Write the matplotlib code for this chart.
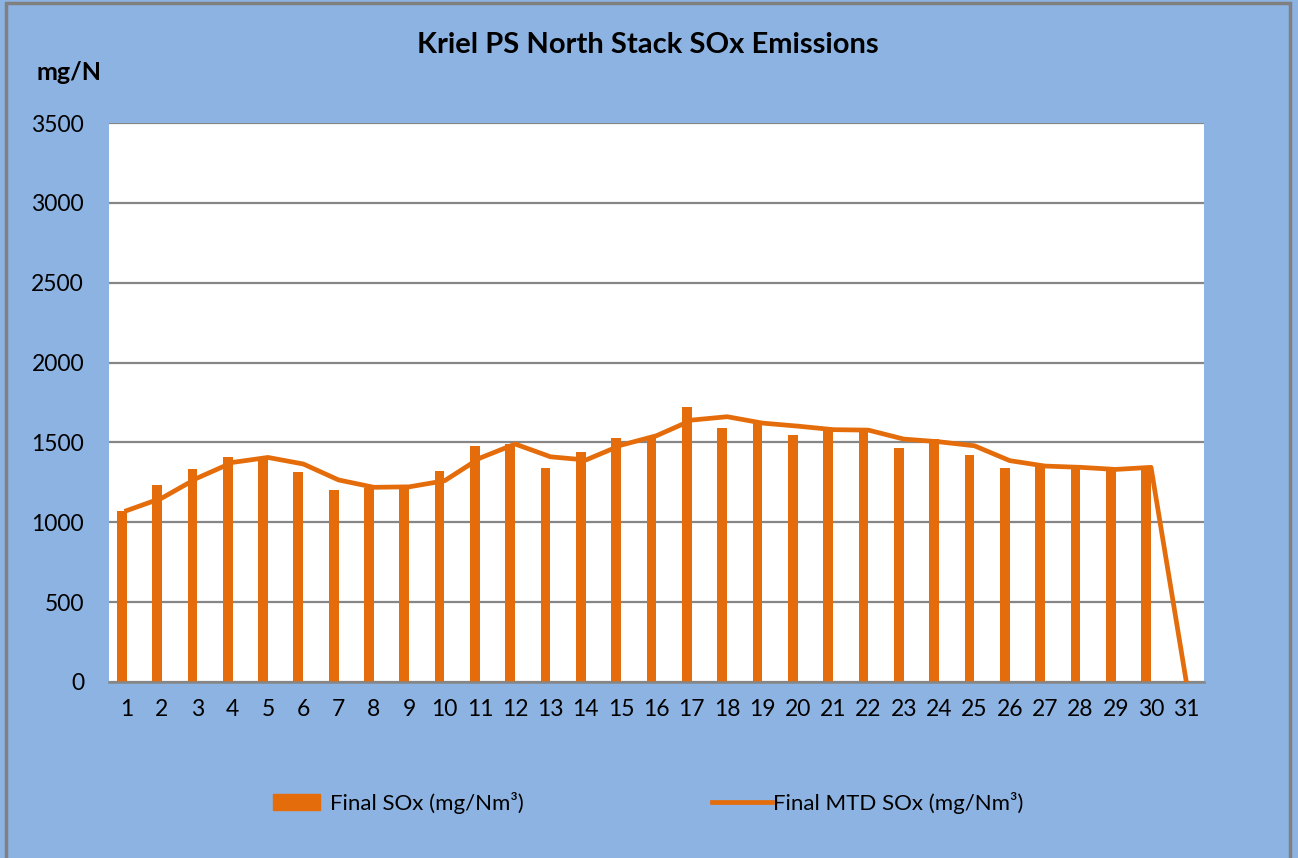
import matplotlib.pyplot as plt
from matplotlib.patches import Rectangle
from matplotlib.lines import Line2D
from matplotlib.patches import Patch

plt.rcParams['font.family'] = ['Lato', 'DejaVu Sans']

days = list(range(1, 32))
final_sox = [1073, 1236, 1333, 1408, 1402, 1315, 1204, 1217, 1215, 1323,
             1479, 1490, 1340, 1442, 1527, 1530, 1719, 1588, 1625, 1544,
             1577, 1580, 1465, 1521, 1421, 1342, 1350, 1342, 1329, 1348, 0]
mtd_sox = [1073, 1152, 1277, 1375, 1406, 1365, 1265, 1219, 1222, 1260,
           1402, 1490, 1410, 1390, 1483, 1542, 1640, 1661, 1621, 1602,
           1580, 1577, 1521, 1504, 1479, 1386, 1352, 1344, 1331, 1344, 0]

orange = '#E46C0A'
bg = '#8DB3E2'
grid_col = '#868686'

fig = plt.figure(figsize=(12.98, 8.58), dpi=100)
fig.patch.set_facecolor(bg)
fig.add_artist(Rectangle((6 / 1298, -0.05), (1290 - 6) / 1298, 1.05 - 3 / 858,
                         transform=fig.transFigure, fill=False,
                         edgecolor='#808080', linewidth=2.5))

ax = fig.add_axes([109 / 1298, 1 - 682 / 858, (1204 - 109) / 1298, (682 - 123) / 858])
ax.set_facecolor('white')
ax.set_axisbelow(True)

# bars sit just left of the category centre, line goes through the centres
bar_x = [d - 0.14 for d in days]
ax.bar(bar_x, final_sox, width=0.275, color=orange, zorder=2)
ax.plot(days, mtd_sox, color=orange, linewidth=3.4, zorder=3,
        solid_joinstyle='round')

ax.set_xlim(0.5, 31.5)
ax.set_ylim(0, 3500)
ax.set_yticks(range(0, 3501, 500))
ax.set_xticks(days)
ax.yaxis.grid(True, color=grid_col, linewidth=1.6)
ax.tick_params(length=0, labelsize=16.5)
ax.tick_params(axis='y', pad=18)
ax.tick_params(axis='x', pad=12)
for s in ['top', 'left', 'right']:
    ax.spines[s].set_visible(False)
ax.spines['bottom'].set_color(grid_col)
ax.spines['bottom'].set_linewidth(1.8)

fig.text(648 / 1298, 1 - 45 / 858, 'Kriel PS North Stack SOx Emissions',
         ha='center', va='center', fontsize=21, fontweight='bold')
fig.text(37 / 1298, 1 - 72 / 858, 'mg/N', ha='left', va='center',
         fontsize=18, fontweight='bold')

fig.legend(handles=[Patch(color=orange)], labels=['Final SOx (mg/Nm³)'],
           loc='center left', bbox_to_anchor=(273 / 1298, 1 - 803 / 858),
           frameon=False, fontsize=16, handlelength=2.1, handleheight=0.75,
           handletextpad=0.45, borderpad=0, borderaxespad=0)
fig.legend(handles=[Line2D([], [], color=orange, linewidth=3.4)],
           labels=['Final MTD SOx (mg/Nm³)'],
           loc='center left', bbox_to_anchor=(712 / 1298, 1 - 803 / 858),
           frameon=False, fontsize=16, handlelength=2.7, handletextpad=0.05,
           borderpad=0, borderaxespad=0)

plt.savefig('out.png', dpi=100, facecolor=bg)
